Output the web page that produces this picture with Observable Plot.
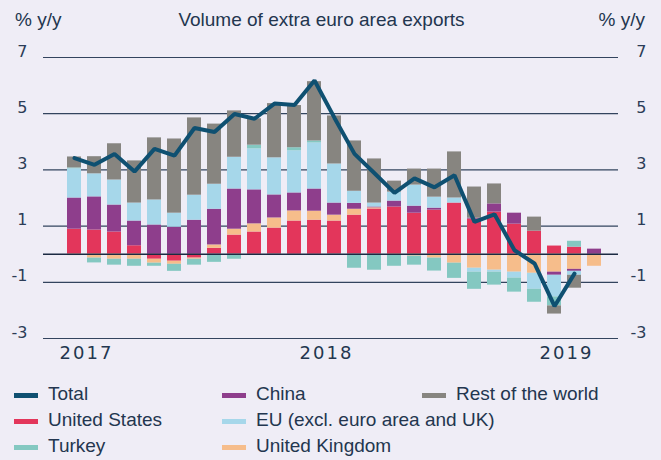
<!DOCTYPE html>
<html><head><meta charset="utf-8">
<script src="https://cdn.jsdelivr.net/npm/d3@7"></script>
<script src="https://cdn.jsdelivr.net/npm/@observablehq/plot@0.6"></script>
<style>
body{margin:0;background:#efedf6;}
#wrap{position:relative;width:661px;height:460px;background:#efedf6;font-family:"Liberation Sans",Arial,sans-serif;color:#23364f;overflow:hidden}
.t{position:absolute;font-size:19px;line-height:1;white-space:nowrap}
#chart{position:absolute;left:0;top:0}
.sw{position:absolute;width:24px;height:5px}
#chart g[aria-label="x-axis tick label"] text{letter-spacing:2px}
</style></head><body>
<div id="wrap">
 <div class="t" style="left:15px;top:10px">% y/y</div>
 <div class="t" style="left:0;width:643px;text-align:center;top:10px">Volume of extra euro area exports</div>
 <div class="t" style="right:16px;top:10px">% y/y</div>
 <div id="chart"></div>
 <div id="legend"></div>
</div>
<script>
const months = ["2017-01","2017-02","2017-03","2017-04","2017-05","2017-06","2017-07","2017-08","2017-09","2017-10","2017-11","2017-12",
  "2018-01","2018-02","2018-03","2018-04","2018-05","2018-06","2018-07","2018-08","2018-09","2018-10","2018-11","2018-12",
  "2019-01","2019-02","2019-03"];
const seriesNames = ["United States","United Kingdom","China","EU (excl. euro area and UK)","Turkey","Rest of the world"];
const seriesColors = ["#e3365b","#f6bd8b","#8e3e8c","#a6d7ea","#84c8c1","#878580"];
const unitedStates = [0.89,0.86,0.79,0.30,-0.18,-0.25,-0.14,0.21,0.68,0.79,0.93,1.18,1.21,1.18,1.39,1.61,1.68,1.46,1.57,1.82,1.25,1.50,1.07,0.82,0.29,0.25,0];
const unitedKingdom = [-0.05,-0.14,-0.18,-0.18,-0.14,-0.11,-0.04,0.12,0.21,0.29,0.36,0.36,0.32,0.21,0.21,0.04,-0.04,-0.07,-0.14,-0.32,-0.50,-0.57,-0.64,-0.68,-0.64,-0.54,-0.43];
const china = [1.11,1.18,0.96,0.88,1.04,0.96,1.21,1.27,1.43,1.21,0.82,0.64,0.79,0.43,0.21,0.03,0.21,0.25,0.07,0,0.03,0.29,0.39,0,-0.11,-0.07,0.18];
const euNonEA = [1.04,0.82,0.89,0.64,0.89,0.50,0.89,0.89,1.13,1.46,1.32,1.50,1.64,1.39,0.43,0.14,0.32,0.75,0.39,0.18,-0.14,-0.07,-0.21,-0.57,-0.77,-0.14,0];
const turkey = [0.03,-0.17,-0.21,-0.25,-0.11,-0.25,-0.21,-0.29,-0.18,0.13,-0.04,0.11,0.07,-0.04,-0.50,-0.57,-0.39,-0.32,-0.46,-0.54,-0.61,-0.46,-0.50,-0.46,-0.32,0.21,0];
const restOfWorld = [0.39,0.61,1.29,1.50,2.21,2.64,2.75,2.14,1.65,0.94,1.93,1.50,2.11,1.71,1.79,1.57,0.39,0.57,1.00,1.64,1.11,0.71,0,0.50,-0.29,-0.46,0];
const total = [3.42,3.18,3.57,2.94,3.75,3.51,4.49,4.35,4.99,4.82,5.36,5.31,6.18,4.85,3.57,2.88,2.18,2.70,2.38,2.81,1.15,1.42,0.14,-0.33,-1.85,-0.69,null];
const yTicks = [7,5,3,1,-1,-3];
const yearTicks = ["2017-01","2018-01","2019-01"];

const seriesValues = [unitedStates, unitedKingdom, china, euNonEA, turkey, restOfWorld];
const bars = [];
seriesNames.forEach((s, i) => seriesValues[i].forEach((v, j) => {
  if (v) bars.push({month: months[j], series: s, value: v});
}));
const totalData = months.map((m, j) => ({month: m, value: total[j]})).filter(d => d.value != null);

const chart = Plot.plot({
  width: 661, height: 372,
  marginLeft: 43, marginRight: 43, marginTop: 57, marginBottom: 34,
  style: {background: "transparent", color: "#2b3c57"},
  x: {type: "band", domain: months, paddingInner: 0.31, paddingOuter: 0.785, align: 0.59, axis: null, label: null},
  y: {domain: [-3, 7], axis: null, label: null},
  color: {domain: seriesNames, range: seriesColors},
  marks: [
    Plot.ruleY(yTicks, {stroke: "#33445e", strokeWidth: 1.2}),
    Plot.barY(bars, {x: "month", y: "value", fill: "series"}),
    Plot.ruleY([0], {stroke: "#1b2a42", strokeWidth: 1.4}),
    Plot.line(totalData, {x: "month", y: "value", stroke: "#0f5071", strokeWidth: 4, strokeLinejoin: "miter"}),
    Plot.axisY(yTicks, {anchor: "left", label: null, tickSize: 0, tickPadding: 16, dy: -6, fontSize: 16, fontFamily: "DejaVu Sans", fill: "#2b3c57", tickFormat: d => d}),
    Plot.axisY(yTicks, {anchor: "right", label: null, tickSize: 0, tickPadding: 28, textAnchor: "end", dy: -6, fontSize: 16, fontFamily: "DejaVu Sans", fill: "#2b3c57", tickFormat: d => d}),
    Plot.axisX(yearTicks, {anchor: "bottom", label: null, tickSize: 0, tickPadding: 8, dx: 12, fontSize: 18, fontFamily: "DejaVu Sans", fill: "#23364f", tickFormat: d => d.slice(0, 4)})
  ]
});
document.getElementById("chart").appendChild(chart);

const legendItems = [
  {name: "Total", color: "#0f5071", col: 0, row: 0},
  {name: "United States", color: "#e3365b", col: 0, row: 1},
  {name: "Turkey", color: "#84c8c1", col: 0, row: 2},
  {name: "China", color: "#8e3e8c", col: 1, row: 0},
  {name: "EU (excl. euro area and UK)", color: "#a6d7ea", col: 1, row: 1},
  {name: "United Kingdom", color: "#f6bd8b", col: 1, row: 2},
  {name: "Rest of the world", color: "#878580", col: 2, row: 0}
];
const colX = [14, 222, 422];
const rowY = [393, 419.5, 445.5];
const leg = document.getElementById("legend");
legendItems.forEach(it => {
  const sw = document.createElement("div");
  sw.className = "sw";
  sw.style.left = colX[it.col] + "px";
  sw.style.top = (rowY[it.row] - 0.5) + "px";
  sw.style.background = it.color;
  leg.appendChild(sw);
  const tx = document.createElement("div");
  tx.className = "t";
  tx.style.left = (colX[it.col] + 34) + "px";
  tx.style.top = (rowY[it.row] - 9.5) + "px";
  tx.textContent = it.name;
  leg.appendChild(tx);
});
</script>
</body></html>
